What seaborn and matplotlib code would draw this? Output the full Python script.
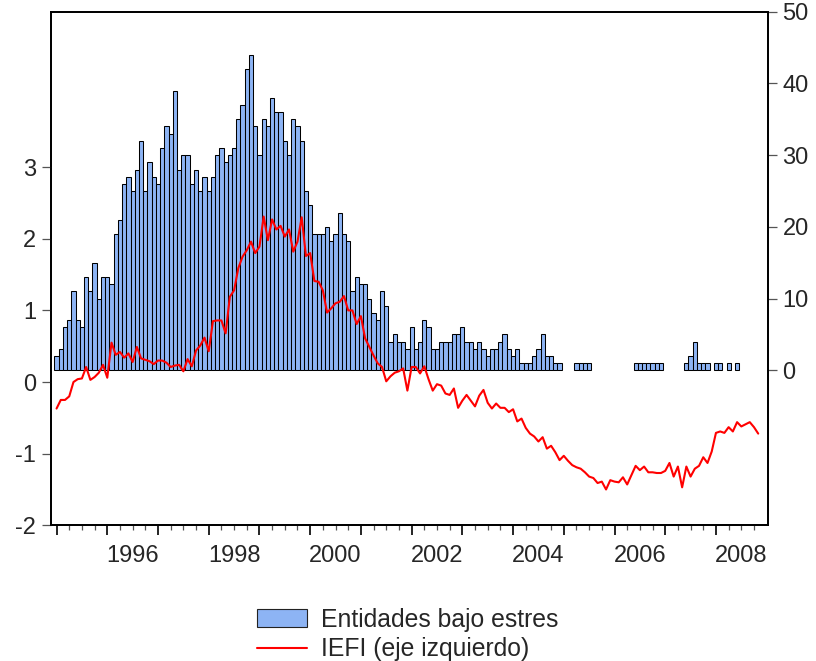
import numpy as np
import pandas as pd
import matplotlib
matplotlib.use("Agg")
import matplotlib.pyplot as plt
import seaborn as sns
from matplotlib.patches import Patch
from matplotlib.lines import Line2D
from matplotlib.ticker import FixedLocator, NullFormatter

# ---- data (monthly, Jan 1995 - Nov 2008) ----
start_year = 1995
n_months = 167

entidades = [
    2, 3, 6, 7, 11, 7, 6, 13, 11, 15, 10, 13, 13, 12, 19, 21,
    26, 27, 25, 28, 32, 25, 29, 27, 26, 31, 34, 33, 39, 28, 30, 30, 26, 28, 25, 27,
    25, 27, 30, 31, 29, 30, 31, 35, 37, 42, 44, 34, 30, 35, 34, 38, 36, 36, 32, 30,
    35, 34, 32, 25,
    23, 19, 19, 19, 20, 18, 19, 22, 19, 18, 11, 13, 12, 12, 10, 8, 7, 11, 9, 4,
    5, 4, 4, 3, 6, 3, 4, 7, 6, 3, 3, 4, 4, 4, 5, 5, 6, 4, 4, 3,
    4, 3, 2, 3, 3, 4, 5, 3, 2, 3, 1, 1, 1, 2, 3, 5, 2, 2, 1, 1,
    0, 0, 0, 1, 1, 1, 1, 0, 0, 0, 0, 0, 0, 0, 0, 0, 0,
    1, 1, 1, 1, 1, 1, 1, 0, 0, 0, 0, 0,
    1, 2, 4, 1, 1, 1, 0, 1, 1, 0, 1, 0, 1, 0, 0, 0, 0, 0,
]

iefi = [
    -0.37, -0.25, -0.25, -0.20, 0.00, 0.04, 0.05, 0.21, 0.03, 0.07, 0.13, 0.24,
    0.06, 0.55, 0.38, 0.42, 0.34, 0.40, 0.28, 0.49, 0.33, 0.31, 0.29, 0.25,
    0.30, 0.30, 0.27, 0.21, 0.23, 0.24, 0.15, 0.32, 0.22, 0.44, 0.51, 0.62,
    0.43, 0.85, 0.86, 0.86, 0.68, 1.19, 1.28, 1.59, 1.75, 1.84, 1.96, 1.80,
    1.89, 2.31, 1.98, 2.27, 2.13, 2.18, 2.03, 2.13, 1.82, 1.96, 2.30, 1.76,
    1.80, 1.41, 1.40, 1.28, 0.97, 1.03, 1.10, 1.12, 1.20, 1.00, 1.00, 0.81,
    0.92, 0.61, 0.49, 0.37, 0.26, 0.21, 0.01, 0.08, 0.13, 0.15, 0.19, -0.12,
    0.21, 0.21, 0.12, 0.22, 0.04, -0.12, -0.03, -0.05, -0.16, -0.18, -0.09, -0.36,
    -0.26, -0.18, -0.26, -0.34, -0.19, -0.11, -0.29, -0.37, -0.30, -0.36, -0.36, -0.42,
    -0.38, -0.55, -0.51, -0.64, -0.72, -0.76, -0.83, -0.77, -0.93, -0.89, -0.98, -1.09,
    -1.03, -1.10, -1.16, -1.19, -1.21, -1.26, -1.32, -1.34, -1.41, -1.39, -1.50, -1.37,
    -1.39, -1.40, -1.33, -1.43, -1.30, -1.17, -1.23, -1.18, -1.26, -1.26, -1.27, -1.27,
    -1.24, -1.13, -1.32, -1.18, -1.47, -1.18, -1.32, -1.21, -1.17, -1.05, -1.13, -0.97,
    -0.71, -0.69, -0.71, -0.63, -0.69, -0.56, -0.62, -0.59, -0.56, -0.63, -0.72,
]

year_labels = ["1996", "1998", "2000", "2002", "2004", "2006", "2008"]
left_ticks = [-2, -1, 0, 1, 2, 3]
right_ticks = [0, 10, 20, 30, 40, 50]

label_bars = "Entidades bajo estres"
label_line = "IEFI (eje izquierdo)"

# ---- build frames ----
fecha = start_year + np.arange(n_months) / 12.0
df = pd.DataFrame({"fecha": fecha, "entidades": entidades, "iefi": iefi})
df_bars = df[df["entidades"] > 0]

sns.set_style("ticks")
plt.rcParams["font.family"] = ["Liberation Sans", "DejaVu Sans"]

bar_color = "#8db4f4"
fs = 17

fig = plt.figure(figsize=(8.16, 6.61), dpi=100)
ax = fig.add_axes([0.0621, 0.2053, 0.879, 0.777])

# bars on primary axes (ticks moved to the right)
sns.barplot(data=df_bars, x="fecha", y="entidades", native_scale=True, ax=ax,
            color=bar_color, saturation=1, width=1.0, edgecolor="black",
            linewidth=0.75, errorbar=None)
ax.set_ylim(-21.6, 50)
ax.yaxis.tick_right()
ax.yaxis.set_label_position("right")
ax.set_yticks(right_ticks)
ax.set_yticklabels([str(t) for t in right_ticks])

# line on twin axes (ticks moved to the left)
ax2 = ax.twinx()
sns.lineplot(data=df, x="fecha", y="iefi", ax=ax2, color="red", linewidth=1.5)
ax2.yaxis.tick_left()
ax2.yaxis.set_label_position("left")
ax2.set_ylim(-2, 5.17)
ax2.set_yticks(left_ticks)
ax2.set_yticklabels([str(t) for t in left_ticks])

for a in (ax, ax2):
    a.set_xlabel("")
    a.set_ylabel("")
    for s in a.spines.values():
        s.set_visible(True)
        s.set_color("black")
        s.set_linewidth(1.3)

ax.set_xlim(1994.884, 2009.025)

# x ticks: years (major, unlabeled), quarters (minor)
ax.xaxis.set_major_locator(FixedLocator(np.arange(1995, 2009)))
ax.xaxis.set_major_formatter(NullFormatter())
ax.xaxis.set_minor_locator(FixedLocator(np.arange(1995, 2008.8, 0.25)))
ax.tick_params(axis="x", which="major", direction="out", length=7.5, width=1.2,
               color="black")
ax.tick_params(axis="x", which="minor", direction="out", length=3.5, width=0.9,
               color="#555555")

# y ticks
ax.tick_params(axis="y", which="major", direction="out", length=6.5, width=0.9,
               color="#555555", labelsize=fs, pad=4, right=True, left=False,
               labelright=True, labelleft=False)
ax2.tick_params(axis="y", which="major", direction="out", length=6.5, width=0.9,
                color="#555555", labelsize=fs, pad=4, left=True, right=False,
                labelleft=True, labelright=False)

# year labels centered on mid-year
sec = ax.secondary_xaxis("bottom")
sec.spines["bottom"].set_visible(False)
sec.set_xticks([int(y) + 0.5 for y in year_labels])
sec.set_xticklabels(year_labels)
sec.tick_params(axis="x", length=0, labelsize=fs, pad=14)

# legend
handles = [Patch(facecolor=bar_color, edgecolor="#222222", linewidth=0.8),
           Line2D([0], [0], color="red", linewidth=1.5)]
fig.legend(handles, [label_bars, label_line], loc="upper center",
           bbox_to_anchor=(0.5, 0.099), frameon=False, fontsize=17.8,
           handlelength=2.0, handleheight=0.75, handletextpad=0.6,
           labelspacing=0.22, borderpad=0.0)

fig.savefig("out.png", dpi=100)
